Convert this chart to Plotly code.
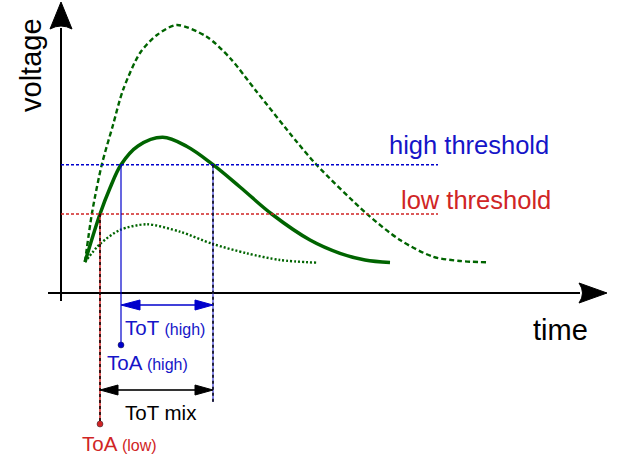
import plotly.graph_objects as go

# ---- data (time / voltage in diagram units, origin at axis crossing) ----
solid_t = [24, 39, 49, 60, 77, 101.7, 126, 152, 179, 210.7, 249, 279, 304, 329]
solid_v = [31, 79, 105, 128.3, 147, 155.7, 146.5, 128.3, 106, 79, 53, 39.7, 33, 30.5]

dashed_t = [24, 31, 40.7, 52, 62, 79, 96, 115.7, 145.7, 169, 195.7, 235.7, 255.7, 305.7, 339, 372, 399, 425.7]
dashed_v = [31, 80, 128, 168, 203, 240, 258, 268, 256.3, 235, 201.3, 151.3, 128, 79.3, 53, 36.3, 32, 30.7]

dotted_t = [24, 39, 59, 85.7, 119, 152, 185.7, 219, 255.7]
dotted_v = [31, 49, 63, 68.7, 61.3, 49, 39.7, 33, 30.3]

high_thr = 128.3
low_thr = 79
thr_end = 377
toa_low = 39
toa_high = 60
tot_end = 152

GREEN = "#006400"
BLUE = "#0000cc"
BLUE_T = "#1515c8"
RED = "#d02525"
FONT = "Liberation Sans, Arial, sans-serif"

fig = go.Figure()
fig.add_trace(go.Scatter(x=dashed_t, y=dashed_v, mode="lines", line=dict(color=GREEN, width=2.4, dash="5px,3px", shape="spline", smoothing=0.8), hoverinfo="skip"))
fig.add_trace(go.Scatter(x=dotted_t, y=dotted_v, mode="lines", line=dict(color=GREEN, width=2.4, dash="2px,2px", shape="spline", smoothing=0.8), hoverinfo="skip"))
fig.add_trace(go.Scatter(x=solid_t, y=solid_v, mode="lines", line=dict(color=GREEN, width=3.5, shape="spline", smoothing=1.0), hoverinfo="skip"))

shapes = []
def line(x0, y0, x1, y1, color, width, dash="solid"):
    shapes.append(dict(type="line", x0=x0, y0=y0, x1=x1, y1=y1, xref="x", yref="y",
                       line=dict(color=color, width=width, dash=dash), layer="above"))

def tri(tip_x, tip_y, base_x, half, color):
    p = f"M {tip_x},{tip_y} L {base_x},{tip_y+half} L {base_x},{tip_y-half} Z"
    shapes.append(dict(type="path", path=p, xref="x", yref="y", fillcolor=color,
                       line=dict(color=color, width=1), layer="above"))

# axes
line(0, -8, 0, 265, "black", 2)
line(-13, 0, 519, 0, "black", 2)
shapes.append(dict(type="path", xref="x", yref="y", fillcolor="black", line=dict(color="black", width=1),
                   path="M 0,291 L -11,264 Q 0,270 11,264 Z"))
shapes.append(dict(type="path", xref="x", yref="y", fillcolor="black", line=dict(color="black", width=1),
                   path="M 546,0 L 518,10 Q 525,0 518,-10 Z"))

# thresholds
line(0, high_thr, thr_end, high_thr, BLUE, 1.5, "3px,2px")
line(0, low_thr, thr_end, low_thr, RED, 1.5, "3px,2px")

# vertical markers
line(toa_low, low_thr, toa_low, -131, RED, 1.5)
line(toa_low, low_thr, toa_low, -131, "black", 1.5, "3px,3px")
line(toa_high, high_thr, toa_high, -52, BLUE, 1.2)
line(tot_end, high_thr, tot_end, -109, "#6060e0", 1.5)
line(tot_end, high_thr, tot_end, -109, "black", 1.5, "3px,3px")

# ToT (high) arrow
line(toa_high + 10, -12, tot_end - 10, -12, BLUE, 1.5)
tri(toa_high, -12, toa_high + 19, 5, BLUE)
tri(tot_end, -12, tot_end - 18, 5, BLUE)
# ToT mix arrow
line(toa_low + 10, -97, tot_end - 10, -97, "#333333", 2)
tri(toa_low, -97, toa_low + 18, 5, "black")
tri(tot_end, -97, tot_end - 18, 5, "black")

# dots
fig.add_trace(go.Scatter(x=[toa_high, toa_low], y=[-52, -131], mode="markers",
                         marker=dict(color=[BLUE, RED], size=6, line=dict(color="#223", width=0.5)), hoverinfo="skip"))

ann = []
def text(x, y, s, color, size, xanchor="left", angle=0):
    ann.append(dict(x=x, y=y, xref="x", yref="y", text=s, showarrow=False, xanchor=xanchor,
                    yanchor="middle", textangle=angle, font=dict(family=FONT, size=size, color=color)))

text(326, 148, "high threshold", BLUE_T, 25.5)
text(338, 93, "low threshold", RED, 25.5)
text(499, -37, "time", "black", 29, "center")
text(-30, 228, "voltage", "black", 29, "center", -90)
text(62, -34, "ToT <span style='font-size:16px'>(high)</span>", BLUE_T, 20.5)
text(44, -69, "ToA <span style='font-size:16px'>(high)</span>", BLUE_T, 20.5)
text(62, -119, "ToT mix", "black", 20.5)
text(19, -150, "ToA <span style='font-size:16px'>(low)</span>", RED, 20.5)

fig.update_layout(
    width=622, height=459, margin=dict(l=0, r=0, t=0, b=0),
    paper_bgcolor="white", plot_bgcolor="white", showlegend=False,
    xaxis=dict(range=[-61, 561], visible=False, fixedrange=True),
    yaxis=dict(range=[-166, 293], visible=False, fixedrange=True),
    shapes=shapes, annotations=ann,
)
fig.write_html("out.html", config={"displayModeBar": False},
               post_script="document.body.style.margin='0';document.body.style.overflow='hidden';")
